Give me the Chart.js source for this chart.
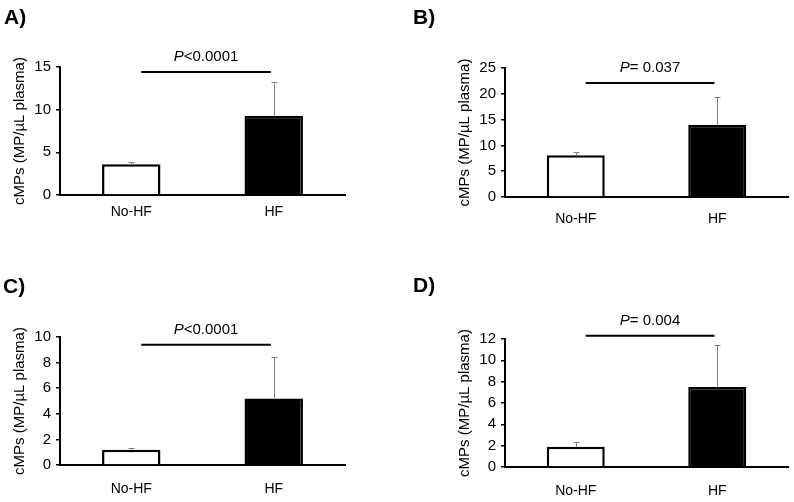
<!DOCTYPE html>
<html>
<head>
<meta charset="utf-8">
<script src="https://cdn.jsdelivr.net/npm/chart.js@4.4.1/dist/chart.umd.min.js"></script>
<style>
  html, body { margin: 0; padding: 0; background: #fff; }
  #wrap { position: relative; width: 794px; height: 502px; background: #fff; overflow: hidden; }
  canvas { position: absolute; }
</style>
</head>
<body>
<div id="wrap">
  <canvas id="cA" width="397" height="250" style="left:0px;top:0px;"></canvas>
  <canvas id="cB" width="394" height="250" style="left:400px;top:0px;"></canvas>
  <canvas id="cC" width="397" height="252" style="left:0px;top:250px;"></canvas>
  <canvas id="cD" width="394" height="252" style="left:400px;top:250px;"></canvas>
</div>
<script>
// ---- data ----
const categories = ['No-HF', 'HF'];
const panelLabels = ['A)', 'B)', 'C)', 'D)'];
const meansA = [3.6, 9.3];
const errA   = [0.25, 3.9];
const meansB = [8.1, 14.0];
const errB   = [0.55, 5.3];
const meansC = [1.2, 5.2];
const errC   = [0.1, 3.2];
const meansD = [1.9, 7.5];
const errD   = [0.4, 3.9];
const yMaxes = [15, 25, 10, 12];
const ySteps = [5, 5, 2, 2];
const pTexts = ['<0.0001', '= 0.037', '<0.0001', '= 0.004'];
const sigY   = [14.4, 22.1, 9.4, 12.3];
const yTitle = 'cMPs (MP/\u00b5L plasma)';

const FONT = "'Liberation Sans', Arial, Helvetica, sans-serif";
Chart.defaults.font.family = FONT;
Chart.defaults.color = '#000';

const means = [meansA, meansB, meansC, meansD];
const errs = [errA, errB, errC, errD];

// layout (positions only)
const layouts = [
  { id: 'cA', pad: { left: 0,  top: 67, right: 52, bottom: 25 }, xPad: 9,  label: [4, 24] },
  { id: 'cB', pad: { left: 45, top: 68, right: 6,  bottom: 23 }, xPad: 14, label: [13, 24] },
  { id: 'cC', pad: { left: 0,  top: 87, right: 52, bottom: 7  }, xPad: 16, label: [3, 43] },
  { id: 'cD', pad: { left: 45, top: 89, right: 6,  bottom: 5  }, xPad: 16, label: [13, 42] }
];

const annotPlugin = {
  id: 'annot',
  afterDatasetsDraw(chart, args, opts) {
    const ctx = chart.ctx;
    const ys = chart.scales.y;
    const meta = chart.getDatasetMeta(0);
    const vals = chart.data.datasets[0].data;
    ctx.save();
    ctx.strokeStyle = '#808080';
    ctx.lineWidth = 1;
    opts.err.forEach((e, i) => {
      const bar = meta.data[i];
      const x = Math.round(bar.x) + 0.5;
      const y0 = ys.getPixelForValue(vals[i]);
      const y1 = Math.round(ys.getPixelForValue(vals[i] + e)) + 0.5;
      ctx.beginPath();
      ctx.moveTo(x, y0);
      ctx.lineTo(x, y1);
      ctx.moveTo(x - 3, y1);
      ctx.lineTo(x + 3, y1);
      ctx.stroke();
    });
    ctx.restore();
  },
  afterDraw(chart, args, opts) {
    const ctx = chart.ctx;
    const xs = chart.scales.x, ys = chart.scales.y;
    ctx.save();
    // significance line
    const xa = xs.getPixelForValue(0.07);
    const xb = xs.getPixelForValue(0.98);
    const yl = ys.getPixelForValue(opts.sig);
    ctx.strokeStyle = '#000';
    ctx.lineWidth = 2;
    ctx.beginPath();
    ctx.moveTo(xa, yl);
    ctx.lineTo(xb, yl);
    ctx.stroke();
    // P text
    ctx.fillStyle = '#000';
    ctx.textBaseline = 'middle';
    ctx.textAlign = 'left';
    const fItal = 'italic 15px ' + FONT;
    const fNorm = '15px ' + FONT;
    ctx.font = fItal;
    const wP = ctx.measureText('P').width;
    ctx.font = fNorm;
    const wR = ctx.measureText(opts.p).width;
    const cx = (xa + xb) / 2;
    const sx = cx - (wP + wR) / 2;
    const ty = yl - 15;
    ctx.font = fItal;
    ctx.fillText('P', sx, ty);
    ctx.font = fNorm;
    ctx.fillText(opts.p, sx + wP, ty);
    // panel label
    ctx.font = 'bold 21px ' + FONT;
    ctx.textBaseline = 'alphabetic';
    ctx.fillText(opts.label, opts.labelPos[0], opts.labelPos[1]);
    ctx.restore();
  }
};

layouts.forEach((L, k) => {
  const ctx = document.getElementById(L.id).getContext('2d');
  new Chart(ctx, {
    type: 'bar',
    data: {
      labels: categories,
      datasets: [{
        data: means[k],
        backgroundColor: ['#ffffff', '#000000'],
        borderColor: '#000000',
        borderWidth: 2.5,
        barPercentage: 0.41,
        categoryPercentage: 1.0
      }]
    },
    options: {
      responsive: false,
      devicePixelRatio: 1,
      animation: false,
      events: [],
      layout: { padding: L.pad },
      plugins: {
        legend: { display: false },
        tooltip: { enabled: false },
        title: { display: false },
        annot: { err: errs[k], sig: sigY[k], p: pTexts[k], label: panelLabels[k], labelPos: L.label }
      },
      scales: {
        x: {
          grid: { display: false, drawTicks: false },
          border: { display: true, color: '#000', width: 2 },
          ticks: { color: '#000', font: { size: 14 }, padding: L.xPad, maxRotation: 0 },
          afterFit(s) { s.height = 30; }
        },
        y: {
          min: 0,
          max: yMaxes[k],
          grid: { drawOnChartArea: false, drawTicks: true, tickLength: 4, color: '#000', lineWidth: 1.5 },
          border: { display: true, color: '#000', width: 2 },
          ticks: { stepSize: ySteps[k], color: '#000', font: { size: 15 }, padding: 5 },
          title: { display: true, text: yTitle, color: '#000', font: { size: 15 }, padding: { top: 11, bottom: 0 } },
          afterFit(s) { s.width = 60; }
        }
      }
    },
    plugins: [annotPlugin]
  });
});
</script>
</body>
</html>
